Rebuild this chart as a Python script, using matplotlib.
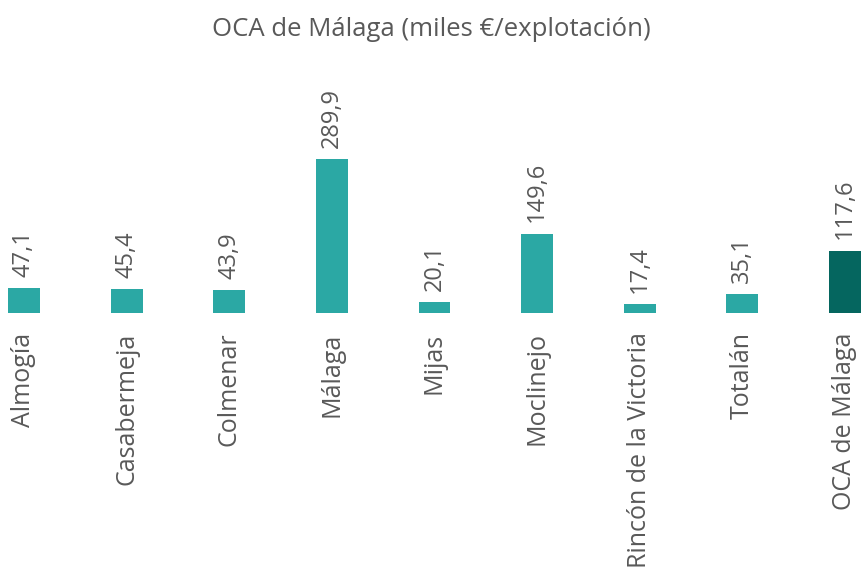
import matplotlib.pyplot as plt

municipios = ["Almogía", "Casabermeja", "Colmenar", "Málaga", "Mijas",
              "Moclinejo", "Rincón de la Victoria", "Totalán", "OCA de Málaga"]
valores = [47.1, 45.4, 43.9, 289.9, 20.1, 149.6, 17.4, 35.1, 117.6]
colores = ["#2BA8A4"] * 8 + ["#05665F"]

plt.rcParams["font.family"] = ["Open Sans", "DejaVu Sans"]
TEXT = "#595959"

fig = plt.figure(figsize=(8.62, 5.74), dpi=100)
# plot area: baseline at 313 px from top, top at 60 px
ax = fig.add_axes([0, (574 - 313) / 574, 1, (313 - 60) / 574])

x = list(range(len(municipios)))
ax.bar(x, valores, width=0.31, color=colores)
ax.set_xlim(-24 * 8 / 821, 8 + 17 * 8 / 821)
ax.set_ylim(0, (313 - 60) / (154 / 289.9))

for xi, v in zip(x, valores):
    ax.annotate(f"{v:.1f}".replace(".", ","), (xi, v), xytext=(0, 8),
                textcoords="offset points", rotation=90, ha="center", va="bottom",
                fontsize=17, color=TEXT)

ax.set_xticks(x)
ax.set_xticklabels(municipios, rotation=90, fontsize=18, color=TEXT, va="top")
ax.tick_params(axis="x", length=0, pad=14)
ax.set_yticks([])
for s in ax.spines.values():
    s.set_visible(False)

fig.suptitle("OCA de Málaga (miles €/explotación)", y=0.97, fontsize=18.5, color=TEXT)
fig.savefig("out.png", dpi=100)
